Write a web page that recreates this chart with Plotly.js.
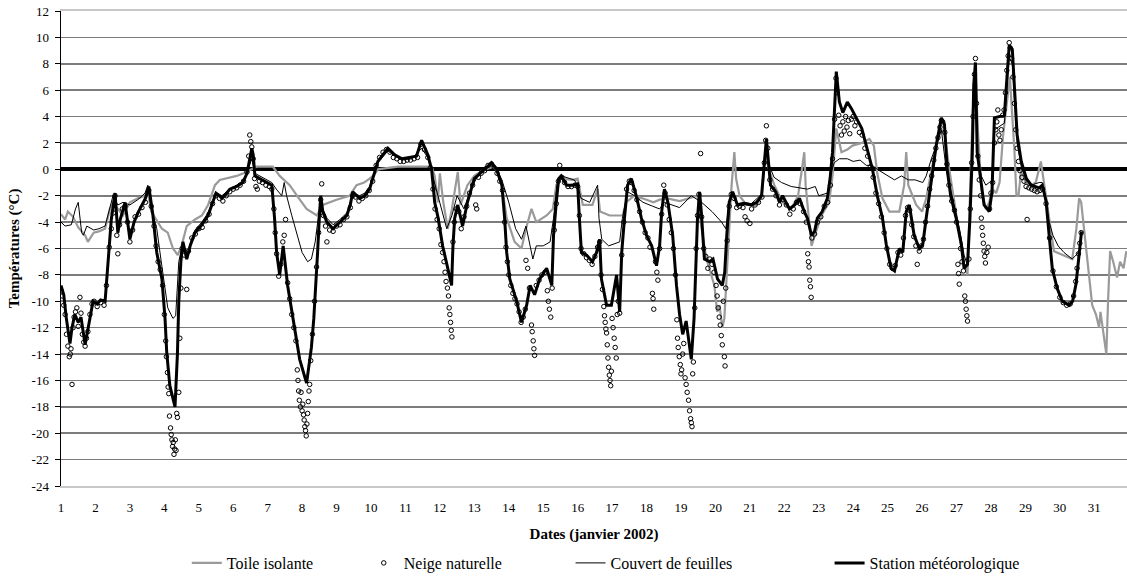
<!DOCTYPE html>
<html>
<head>
<meta charset="utf-8">
<script src="https://cdn.plot.ly/plotly-3.0.1.min.js"></script>
<style>
  html, body { margin: 0; padding: 0; background: #fff; }
  #chart { width: 1127px; height: 580px; }
</style>
</head>
<body>
<div id="chart"></div>
<script>
// Températures de janvier 2002 (jour du mois, °C)

const dayTicks = [1,2,3,4,5,6,7,8,9,10,11,12,13,14,15,16,17,18,19,20,21,22,23,24,25,26,27,28,29,30,31];
const tempTicks = [12,10,8,6,4,2,0,-2,-4,-6,-8,-10,-12,-14,-16,-18,-20,-22,-24];

// Station météorologique
const stationDays = [1.00,1.08,1.15,1.26,1.32,1.40,1.50,1.58,1.70,1.78,1.93,2.05,2.15,2.28,2.36,2.46,2.57,2.65,2.72,2.86,3.00,3.12,3.25,3.35,3.45,3.55,3.67,3.78,3.93,4.02,4.07,4.16,4.31,4.38,4.42,4.48,4.54,4.65,4.75,4.89,5.09,5.27,5.41,5.50,5.60,5.67,5.78,5.90,6.10,6.28,6.40,6.54,6.58,6.63,6.77,6.97,7.12,7.20,7.26,7.35,7.45,7.58,7.70,7.82,7.93,8.13,8.27,8.34,8.40,8.45,8.50,8.54,8.60,8.72,8.90,9.10,9.30,9.40,9.47,9.67,9.82,9.96,10.05,10.20,10.49,10.69,10.90,11.18,11.32,11.47,11.65,11.76,11.85,11.95,12.08,12.23,12.34,12.38,12.43,12.52,12.66,12.80,13.00,13.30,13.50,13.65,13.80,13.88,13.94,14.03,14.23,14.37,14.52,14.62,14.75,14.90,15.10,15.25,15.30,15.38,15.45,15.52,15.68,15.86,16.00,16.05,16.11,16.26,16.43,16.55,16.64,16.69,16.84,16.98,17.13,17.22,17.28,17.36,17.45,17.56,17.70,17.85,18.00,18.15,18.29,18.38,18.44,18.52,18.62,18.76,18.87,18.96,19.05,19.15,19.22,19.30,19.38,19.42,19.48,19.54,19.59,19.68,19.83,19.93,20.06,20.20,20.27,20.33,20.40,20.50,20.64,20.84,21.04,21.20,21.34,21.48,21.54,21.60,21.75,21.86,21.95,22.15,22.30,22.44,22.58,22.67,22.79,22.88,22.96,23.10,23.25,23.33,23.40,23.51,23.60,23.70,23.83,23.95,24.09,24.25,24.38,24.56,24.70,24.85,24.96,25.10,25.20,25.34,25.44,25.54,25.63,25.77,25.92,26.02,26.12,26.27,26.41,26.56,26.65,26.73,26.83,26.99,27.14,27.22,27.32,27.39,27.46,27.50,27.55,27.60,27.72,27.80,27.95,28.03,28.10,28.30,28.39,28.45,28.53,28.62,28.67,28.76,28.88,29.03,29.17,29.40,29.49,29.60,29.69,29.78,29.92,30.07,30.27,30.37,30.47,30.56,30.63];
const stationTemps = [-8.8,-9.5,-11.2,-13.2,-12.0,-11.0,-11.6,-11.2,-13.3,-12.2,-10.0,-10.2,-9.9,-10.0,-7.0,-3.8,-1.8,-4.8,-3.8,-2.5,-5.3,-4.0,-3.2,-2.7,-2.2,-1.3,-3.5,-6.3,-8.3,-11.3,-13.9,-16.4,-18.0,-14.0,-10.0,-7.0,-5.5,-6.8,-5.8,-4.8,-4.2,-3.5,-2.5,-1.8,-2.0,-2.2,-1.9,-1.5,-1.3,-1.0,-0.3,1.6,1.1,-0.5,-0.7,-1.0,-1.2,-3.7,-6.3,-8.0,-5.8,-8.8,-10.8,-12.6,-14.4,-16.2,-13.5,-11.3,-8.8,-6.3,-3.7,-2.0,-3.2,-4.0,-4.5,-4.0,-3.5,-2.7,-1.7,-2.2,-2.0,-1.5,-0.7,0.6,1.6,1.1,0.8,0.9,1.0,2.2,1.1,0.0,-2.5,-3.7,-5.8,-7.5,-8.8,-5.8,-3.7,-2.7,-4.3,-2.5,-0.7,0.0,0.5,0.0,-1.2,-3.7,-6.3,-8.3,-10.0,-11.6,-10.3,-8.8,-9.5,-8.3,-7.5,-8.8,-5.0,-2.5,-0.7,-0.5,-1.2,-1.2,-1.1,-3.7,-6.3,-6.5,-7.0,-6.3,-5.3,-8.3,-10.3,-10.3,-8.0,-10.8,-6.3,-3.7,-1.2,-0.7,-2.0,-3.7,-5.0,-5.8,-7.3,-5.8,-3.2,-1.5,-2.5,-5.0,-8.8,-11.0,-12.5,-11.5,-13.0,-14.4,-11.3,-7.5,-3.7,-1.7,-3.2,-6.8,-7.0,-6.8,-8.3,-8.8,-7.8,-5.0,-2.5,-1.7,-2.7,-2.6,-2.7,-2.5,-2.0,2.3,0.8,-1.2,-1.7,-2.5,-2.0,-3.0,-2.7,-2.2,-3.2,-3.7,-5.0,-4.7,-3.7,-3.2,-2.2,-0.7,1.3,7.4,5.1,4.3,5.1,4.6,3.9,3.1,1.8,0.0,-2.0,-3.7,-5.7,-7.5,-7.7,-6.0,-6.3,-3.2,-2.7,-5.0,-6.0,-5.7,-3.7,-0.7,1.8,3.9,3.4,0.0,-2.0,-3.7,-5.7,-7.5,-7.2,-3.7,1.3,6.4,8.1,1.3,-1.2,-2.7,-3.2,-1.7,3.9,4.0,4.1,6.4,9.4,9.1,6.4,2.6,0.6,-0.7,-1.2,-1.4,-1.2,-2.4,-5.0,-7.5,-9.0,-10.0,-10.3,-10.0,-8.7,-6.2,-4.7];

// Toile isolante
const toileDays = [1.00,1.12,1.20,1.35,1.50,1.70,1.78,1.95,2.10,2.28,2.42,2.51,2.65,2.80,3.00,3.23,3.44,3.52,3.62,3.93,4.10,4.25,4.39,4.50,4.65,4.89,5.09,5.27,5.47,5.61,6.10,6.30,6.68,7.15,7.35,7.64,7.85,8.13,8.43,8.60,9.00,9.38,9.58,9.80,9.96,10.10,10.20,10.78,11.76,11.85,11.94,12.00,12.10,12.23,12.35,12.52,12.60,12.80,13.00,13.30,13.59,13.80,13.94,14.17,14.37,14.50,14.66,14.80,15.10,15.28,15.38,15.48,15.86,16.00,16.15,16.43,16.58,16.65,16.93,17.31,17.40,17.65,18.00,18.20,18.38,18.60,18.96,19.20,19.48,19.60,19.74,19.97,20.05,20.12,20.20,20.26,20.36,20.47,20.55,20.60,20.70,20.90,21.20,21.35,21.45,21.55,21.71,21.95,22.20,22.40,22.50,22.58,22.62,22.79,22.95,23.10,23.30,23.40,23.51,23.66,23.83,23.98,24.25,24.47,24.60,24.70,24.85,25.05,25.34,25.48,25.54,25.60,25.83,26.00,26.12,26.27,26.41,26.56,26.65,26.79,26.95,27.08,27.22,27.32,27.40,27.46,27.55,27.62,27.72,27.85,27.95,28.05,28.15,28.25,28.35,28.45,28.55,28.62,28.68,28.74,28.80,28.88,29.00,29.17,29.30,29.45,29.52,29.65,29.83,30.12,30.36,30.48,30.56,30.62,30.77,30.85,30.94,31.05,31.14,31.18,31.25,31.35,31.40,31.46,31.55,31.66,31.75,31.85,31.93];
const toileTemps = [-3.4,-3.8,-3.2,-3.6,-4.4,-5.0,-5.5,-4.8,-4.7,-4.5,-3.0,-2.5,-3.0,-3.5,-2.5,-2.2,-2.0,-1.7,-3.2,-4.5,-4.8,-6.0,-6.5,-5.8,-4.3,-3.8,-3.5,-2.7,-1.2,-0.8,-0.5,-0.3,0.2,0.2,-0.5,-1.2,-2.0,-3.0,-3.5,-2.7,-2.3,-2.0,-1.2,-1.0,-0.7,-0.4,0.0,0.2,0.2,-0.5,-2.5,-0.3,-2.5,-4.5,-3.0,-0.2,-2.7,-1.2,-0.5,0.0,0.2,-1.2,-3.7,-5.5,-6.0,-4.5,-3.0,-4.0,-3.5,-3.0,-1.2,-0.7,-0.8,-0.7,-2.7,-2.7,-1.5,-3.2,-3.5,-3.5,-2.5,-2.0,-2.3,-2.5,-2.3,-2.2,-2.4,-2.2,-2.0,-4.5,-6.8,-8.8,-10.8,-10.3,-12.0,-11.3,-6.0,-1.2,1.3,-0.7,-2.0,-2.7,-2.7,-2.0,1.3,0.0,-1.2,-2.5,-3.0,-2.0,-0.2,1.3,-1.2,-5.8,-4.5,-3.4,-2.5,-0.5,3.1,1.3,1.5,1.8,2.0,2.3,1.8,-0.3,-2.2,-3.2,-3.2,-1.2,1.3,-1.2,-2.7,-3.2,-2.2,0.0,1.8,3.0,2.8,0.0,-2.7,-5.0,-7.2,-8.0,-1.2,3.8,7.5,3.0,-1.5,-3.0,-2.5,-1.5,-1.8,-1.0,2.5,5.0,7.0,4.0,1.5,-2.0,-2.0,0.0,-1.0,-1.2,-1.0,0.6,-0.8,-3.0,-6.2,-6.5,-6.8,-4.5,-2.2,-2.5,-6.2,-8.5,-10.3,-11.0,-12.0,-10.8,-12.0,-14.0,-10.0,-6.2,-7.0,-8.2,-7.0,-7.5,-6.2];

// Couvert de feuilles
const couvertDays = [1.00,1.12,1.30,1.42,1.50,1.55,1.60,1.65,1.75,1.95,2.10,2.28,2.40,2.51,2.65,2.80,3.00,3.23,3.44,3.52,3.62,3.78,3.90,4.00,4.10,4.25,4.33,4.42,4.54,4.65,4.75,4.89,5.09,5.27,5.41,5.50,5.67,5.90,6.10,6.28,6.40,6.54,6.63,6.77,6.97,7.12,7.25,7.41,7.48,7.55,7.70,7.85,8.00,8.16,8.27,8.38,8.47,8.54,8.60,8.72,8.90,9.10,9.30,9.47,9.67,9.82,9.96,10.05,10.20,10.49,10.69,10.90,11.18,11.47,11.65,11.76,11.90,12.05,12.20,12.35,12.50,12.70,12.90,13.10,13.30,13.60,13.80,14.00,14.20,14.37,14.50,14.70,14.80,15.00,15.20,15.30,15.40,15.53,15.90,16.00,16.10,16.35,16.50,16.58,16.62,16.70,16.90,17.22,17.30,17.45,17.65,17.90,18.18,18.38,18.52,18.96,19.30,19.60,19.90,20.18,20.30,20.40,20.50,20.64,20.84,21.04,21.34,21.48,21.55,21.70,21.92,22.20,22.67,22.90,23.00,23.25,23.33,23.45,23.60,23.83,24.00,24.20,24.38,24.56,24.70,24.96,25.20,25.40,25.60,25.80,26.02,26.12,26.27,26.41,26.56,26.70,26.80,26.95,27.10,27.22,27.32,27.40,27.50,27.55,27.60,27.72,27.85,27.95,28.05,28.10,28.39,28.53,28.62,28.76,28.88,29.03,29.17,29.40,29.49,29.60,29.69,29.80,29.95,30.12,30.36,30.47,30.56,30.63];
const couvertTemps = [-4.0,-4.3,-4.2,-3.0,-2.5,-3.5,-4.8,-5.0,-4.3,-4.6,-4.5,-4.3,-3.2,-2.0,-2.7,-2.5,-2.7,-2.3,-1.8,-1.2,-3.0,-4.5,-6.8,-8.8,-10.5,-11.3,-11.1,-7.0,-5.5,-6.6,-5.6,-4.6,-4.0,-3.3,-2.4,-1.8,-2.0,-1.5,-1.2,-0.9,-0.2,0.8,-0.3,-0.5,-0.8,-1.0,-1.5,-2.0,-1.0,-2.0,-3.5,-5.0,-6.3,-7.0,-6.8,-5.5,-3.5,-2.2,-3.0,-3.7,-4.2,-3.8,-3.3,-1.8,-2.0,-1.8,-1.3,-0.6,0.5,1.4,1.0,0.7,0.8,1.6,0.9,-0.2,-1.5,-3.0,-4.5,-3.5,-2.0,-3.0,-1.5,-0.5,0.2,0.3,-0.8,-2.5,-4.5,-5.3,-4.3,-6.8,-5.8,-5.8,-5.5,-3.7,-1.2,-0.5,-0.8,-1.2,-2.2,-2.5,-1.7,-1.2,-3.7,-5.3,-5.8,-5.5,-3.7,-1.7,-2.0,-2.5,-2.8,-3.0,-2.5,-2.9,-2.0,-2.5,-3.2,-4.0,-4.5,-2.6,-1.8,-2.6,-2.5,-2.6,-1.9,1.8,0.4,-0.6,-1.0,-1.3,-1.5,-1.3,-2.0,-1.8,-0.5,0.5,0.8,0.8,0.6,0.7,0.3,0.3,0.0,-0.4,-0.8,-0.5,-0.8,-0.8,-1.0,-0.5,0.8,1.8,3.0,0.0,-1.2,-2.8,-4.7,-6.5,-7.3,-3.0,5.5,7.8,1.0,-0.5,-1.2,-1.0,-0.8,3.0,3.5,8.5,8.0,2.0,0.2,-0.8,-1.2,-1.0,-1.0,-2.7,-4.0,-5.0,-5.8,-6.3,-6.8,-6.5,-6.2,-6.0];

// Neige naturelle (relevés ponctuels)
const neigeDays = [1.00,1.04,1.08,1.12,1.16,1.20,1.24,1.27,1.29,1.32,1.35,1.38,1.42,1.46,1.50,1.55,1.58,1.62,1.66,1.70,1.74,1.78,1.84,1.90,1.96,2.05,2.15,2.25,2.32,2.40,2.46,2.52,2.57,2.62,2.65,2.70,2.78,2.86,2.93,3.00,3.08,3.15,3.25,3.35,3.45,3.55,3.62,3.70,3.76,3.82,3.88,3.95,4.00,4.04,4.06,4.09,4.11,4.13,4.15,4.18,4.20,4.22,4.24,4.26,4.28,4.30,4.32,4.34,4.36,4.38,4.42,4.45,4.48,4.52,4.58,4.65,4.70,4.80,4.90,5.00,5.10,5.20,5.30,5.40,5.50,5.60,5.70,5.80,5.90,6.00,6.10,6.20,6.30,6.40,6.45,6.48,6.51,6.54,6.58,6.62,6.66,6.70,6.76,6.85,6.95,7.05,7.12,7.18,7.22,7.26,7.32,7.38,7.44,7.48,7.52,7.58,7.64,7.70,7.76,7.82,7.86,7.88,7.90,7.92,7.95,7.97,8.00,8.02,8.04,8.06,8.08,8.10,8.12,8.14,8.16,8.18,8.20,8.22,8.25,8.30,8.36,8.42,8.48,8.54,8.57,8.62,8.68,8.72,8.80,8.90,9.00,9.10,9.20,9.30,9.40,9.47,9.55,9.65,9.75,9.85,9.95,10.05,10.15,10.25,10.35,10.45,10.55,10.65,10.75,10.85,10.95,11.05,11.15,11.25,11.35,11.45,11.55,11.65,11.72,11.80,11.86,11.92,11.98,12.03,12.08,12.12,12.15,12.18,12.22,12.25,12.27,12.29,12.31,12.33,12.35,12.38,12.42,12.48,12.55,12.62,12.70,12.78,12.86,12.95,13.04,13.07,13.12,13.20,13.30,13.40,13.50,13.58,13.66,13.74,13.82,13.88,13.92,13.96,14.00,14.06,14.12,14.18,14.24,14.30,14.36,14.42,14.48,14.50,14.55,14.60,14.66,14.68,14.71,14.73,14.75,14.80,14.88,14.96,15.05,15.12,15.15,15.18,15.22,15.26,15.32,15.38,15.44,15.48,15.54,15.62,15.72,15.82,15.92,16.00,16.05,16.10,16.18,16.26,16.34,16.42,16.50,16.58,16.64,16.68,16.72,16.76,16.78,16.80,16.82,16.84,16.86,16.88,16.90,16.92,16.94,16.96,16.98,17.00,17.03,17.06,17.09,17.12,17.15,17.18,17.22,17.28,17.34,17.42,17.50,17.56,17.64,17.72,17.80,17.88,17.96,18.04,18.10,18.17,18.19,18.21,18.26,18.30,18.33,18.38,18.44,18.50,18.54,18.60,18.66,18.72,18.78,18.84,18.88,18.90,18.92,18.95,18.98,19.00,19.02,19.05,19.08,19.12,19.15,19.18,19.22,19.25,19.28,19.30,19.32,19.34,19.36,19.40,19.44,19.48,19.52,19.57,19.60,19.66,19.72,19.78,19.84,19.90,19.96,20.02,20.05,20.08,20.11,20.14,20.17,20.20,20.23,20.26,20.28,20.30,20.34,20.40,20.46,20.54,20.62,20.70,20.80,20.86,20.92,21.00,21.05,21.15,21.25,21.35,21.42,21.46,21.48,21.52,21.58,21.66,21.76,21.86,21.96,22.06,22.16,22.26,22.36,22.46,22.56,22.64,22.68,22.70,22.72,22.74,22.76,22.78,22.80,22.88,22.96,23.06,23.16,23.26,23.34,23.40,23.46,23.50,23.54,23.58,23.62,23.66,23.70,23.74,23.78,23.82,23.86,23.90,23.95,24.00,24.05,24.10,24.18,24.26,24.34,24.42,24.50,24.58,24.66,24.74,24.82,24.90,24.98,25.06,25.14,25.22,25.30,25.38,25.46,25.52,25.58,25.64,25.70,25.76,25.82,25.86,25.92,25.98,26.04,26.10,26.16,26.22,26.28,26.34,26.40,26.46,26.52,26.56,26.60,26.66,26.72,26.78,26.86,26.94,27.00,27.04,27.06,27.08,27.12,27.16,27.20,27.24,27.26,27.28,27.30,27.32,27.36,27.40,27.44,27.48,27.52,27.55,27.58,27.62,27.66,27.70,27.72,27.74,27.76,27.78,27.80,27.82,27.84,27.88,27.92,27.96,28.00,28.05,28.10,28.14,28.17,28.20,28.23,28.26,28.30,28.34,28.38,28.42,28.46,28.50,28.53,28.56,28.60,28.64,28.68,28.72,28.76,28.80,28.84,28.90,28.96,29.02,29.05,29.10,29.18,29.26,29.34,29.42,29.50,29.60,29.70,29.80,29.90,30.00,30.10,30.20,30.30,30.40,30.46,30.50,30.54,30.58,30.62];
const neigeTemps = [-9.2,-9.6,-10.3,-11.0,-12.5,-13.4,-14.2,-14.0,-13.6,-16.3,-12.0,-11.2,-10.8,-10.5,-11.9,-9.7,-10.9,-12.5,-13.1,-13.4,-12.8,-12.3,-11.0,-10.2,-10.0,-10.4,-10.1,-10.3,-8.8,-5.9,-4.5,-3.3,-2.0,-5.0,-6.4,-4.2,-3.0,-2.8,-4.0,-5.5,-4.6,-3.6,-3.4,-2.9,-2.5,-1.6,-2.8,-4.3,-5.8,-7.0,-7.6,-8.8,-11.0,-13.0,-14.2,-15.4,-16.5,-17.0,-18.7,-19.6,-20.1,-20.5,-21.0,-20.7,-21.6,-21.2,-20.5,-21.3,-18.5,-18.8,-16.9,-12.8,-9.0,-6.0,-6.5,-9.1,-6.2,-5.2,-4.9,-4.5,-4.4,-3.9,-3.4,-2.6,-2.0,-2.2,-2.4,-2.0,-1.7,-1.5,-1.4,-1.2,-0.9,-0.2,1.0,2.6,2.1,1.7,0.8,-0.7,-1.3,-1.5,-0.9,-1.0,-1.2,-1.3,-1.5,-3.0,-4.8,-6.4,-8.1,-7.2,-5.5,-5.0,-3.8,-8.6,-9.8,-11.0,-12.0,-13.0,-15.2,-16.0,-16.8,-17.5,-18.0,-16.9,-18.3,-17.8,-18.6,-19.0,-19.5,-19.8,-20.2,-19.3,-18.5,-17.6,-16.8,-16.3,-14.5,-12.5,-10.0,-7.4,-4.8,-2.3,-1.1,-3.5,-4.3,-5.5,-4.6,-4.7,-4.3,-4.2,-3.8,-3.6,-2.9,-2.0,-2.1,-2.4,-2.2,-2.0,-1.6,-0.9,0.3,0.9,1.3,1.5,1.3,0.9,0.8,0.6,0.6,0.7,0.7,0.8,0.9,1.9,1.5,0.9,0.1,-1.5,-3.0,-3.8,-4.5,-5.7,-6.3,-7.0,-7.8,-8.5,-9.0,-9.6,-10.5,-11.0,-11.6,-12.2,-12.7,-5.5,-4.0,-3.0,-3.2,-4.5,-3.6,-2.8,-1.8,-1.2,-2.7,-3.0,-0.6,-0.3,-0.1,0.3,0.4,0.1,-0.3,-0.9,-1.6,-4.0,-5.9,-7.0,-8.0,-8.8,-9.4,-9.8,-10.2,-10.8,-11.6,-11.2,-10.6,-6.9,-7.5,-9.0,-11.8,-12.3,-13.0,-13.6,-14.1,-8.8,-8.4,-8.0,-7.8,-9.2,-10.0,-10.6,-11.2,-9.0,-4.6,-2.6,-0.9,0.3,-0.6,-1.0,-1.3,-1.3,-1.2,-1.3,-3.5,-6.0,-6.4,-6.7,-6.9,-7.2,-6.6,-5.9,-5.5,-8.0,-9.1,-10.4,-11.1,-11.6,-12.1,-12.4,-13.3,-14.3,-15.0,-15.6,-16.0,-16.4,-15.3,-11.3,-12.0,-12.8,-13.5,-14.3,-11.0,-10.0,-10.9,-6.5,-4.0,-1.5,-0.9,-1.0,-1.6,-2.3,-3.2,-4.0,-4.8,-5.2,-5.9,-9.4,-9.8,-10.6,-7.0,-7.8,-8.4,-6.0,-3.4,-1.2,-1.8,-2.7,-3.8,-4.8,-6.0,-8.0,-11.4,-12.8,-13.5,-14.2,-14.8,-15.5,-15.2,-14.0,-13.2,-15.8,-16.3,-16.9,-17.5,-18.3,-18.9,-19.2,-19.5,-15.5,-14.6,-10.5,-6.0,-3.5,-1.9,1.2,-3.6,-6.0,-6.6,-7.5,-6.8,-7.2,-7.8,-8.8,-9.6,-10.5,-11.2,-11.8,-12.6,-13.3,-10.0,-14.2,-14.9,-9.0,-5.4,-2.8,-1.9,-2.2,-2.9,-2.8,-2.9,-3.6,-3.9,-4.1,-3.0,-2.7,-2.5,-2.1,0.5,2.2,3.3,1.6,-0.8,-1.5,-2.0,-2.7,-2.3,-2.7,-3.4,-3.0,-2.5,-2.6,-3.2,-4.0,-6.4,-7.0,-7.4,-8.4,-8.9,-9.7,-5.2,-4.9,-4.0,-3.6,-2.8,-2.5,-1.2,0.8,3.8,6.9,5.8,4.1,3.3,2.6,3.6,2.9,4.0,3.2,3.7,2.7,3.8,4.0,3.3,3.6,2.8,2.6,1.6,1.0,0.2,-0.6,-1.8,-2.6,-3.6,-4.8,-6.0,-7.2,-7.5,-7.3,-6.3,-6.5,-5.2,-3.5,-2.9,-3.1,-4.2,-5.1,-5.8,-7.2,-6.2,-5.8,-5.3,-4.0,-2.8,-1.5,-0.5,0.7,1.6,2.4,3.2,3.7,3.6,2.8,0.4,-1.2,-2.4,-3.1,-4.0,-7.2,-7.9,-8.7,-6.0,-7.0,-7.7,-9.6,-10.0,-10.6,-11.1,-11.5,-6.8,-3.0,0.5,4.0,7.2,8.4,5.0,1.0,-0.8,-2.0,-3.7,-4.4,-5.0,-5.6,-6.2,-6.6,-7.1,-6.3,-5.9,-3.0,-1.8,-1.0,2.0,3.0,3.6,4.5,2.6,2.2,3.0,4.1,4.5,5.8,7.5,8.6,9.6,9.2,8.4,7.0,5.0,3.0,1.6,0.6,-0.1,-0.6,-0.9,-1.3,-3.8,-1.4,-1.5,-1.6,-1.7,-1.6,-1.5,-2.6,-5.2,-7.7,-8.9,-9.7,-10.1,-10.3,-10.2,-9.6,-8.5,-7.5,-6.4,-5.6,-4.8];

const seriesNames = ['Toile isolante', 'Neige naturelle', 'Couvert de feuilles', 'Station météorologique'];

const serif = 'Liberation Serif';

const traces = [
  {
    x: toileDays, y: toileTemps, type: 'scatter', mode: 'lines',
    name: seriesNames[0], legend: 'legend',
    line: { color: '#9a9a9a', width: 2.2 }
  },
  {
    x: neigeDays, y: neigeTemps, type: 'scatter', mode: 'markers',
    name: seriesNames[1], legend: 'legend2',
    marker: { symbol: 'circle-open', size: 4.5, color: '#000', line: { width: 1, color: '#000' } }
  },
  {
    x: couvertDays, y: couvertTemps, type: 'scatter', mode: 'lines',
    name: seriesNames[2], legend: 'legend3',
    line: { color: '#000', width: 1 }
  },
  {
    x: stationDays, y: stationTemps, type: 'scatter', mode: 'lines',
    name: seriesNames[3], legend: 'legend4',
    line: { color: '#000', width: 3 }
  }
];

const legendBase = {
  orientation: 'h', yanchor: 'middle', xanchor: 'left', y: -0.163,
  bgcolor: 'rgba(0,0,0,0)', font: { family: serif, size: 16, color: '#000' },
  itemwidth: 30
};

const layout = {
  width: 1127, height: 580,
  margin: { l: 61, r: 0, t: 11, b: 92 },
  paper_bgcolor: '#fff', plot_bgcolor: '#fff',
  font: { family: serif, color: '#000' },
  showlegend: true,
  legend:  Object.assign({}, legendBase, { x: 0.118 }),
  legend2: Object.assign({}, legendBase, { x: 0.284 }),
  legend3: Object.assign({}, legendBase, { x: 0.478 }),
  legend4: Object.assign({}, legendBase, { x: 0.721 }),
  xaxis: {
    range: [1, 31.95],
    tickmode: 'array', tickvals: dayTicks, ticktext: dayTicks.map(String),
    showgrid: false, zeroline: false,
    showline: true, linecolor: '#c8c8c8', linewidth: 2, mirror: true,
    ticks: '', ticklabelstandoff: 8,
    tickfont: { family: serif, size: 13, color: '#000' },
    title: { text: '<b>Dates (janvier 2002)</b>', font: { family: serif, size: 15, color: '#000' }, standoff: 15 }
  },
  yaxis: {
    range: [-24, 12],
    tickmode: 'array', tickvals: tempTicks, ticktext: tempTicks.map(String),
    showgrid: true, gridcolor: '#7c7c7c', gridwidth: 1.6,
    zeroline: true, zerolinecolor: '#000', zerolinewidth: 4,
    showline: true, linecolor: '#000', linewidth: 1.5,
    ticks: 'outside', ticklen: 5, tickcolor: '#000', tickwidth: 1,
    ticklabelstandoff: 3,
    tickfont: { family: serif, size: 13, color: '#000' },
    title: { text: '<b>Températures (°C)</b>', font: { family: serif, size: 15, color: '#000' }, standoff: 8 }
  }
};

Plotly.newPlot('chart', traces, layout, { displayModeBar: false, staticPlot: true });
</script>
</body>
</html>
